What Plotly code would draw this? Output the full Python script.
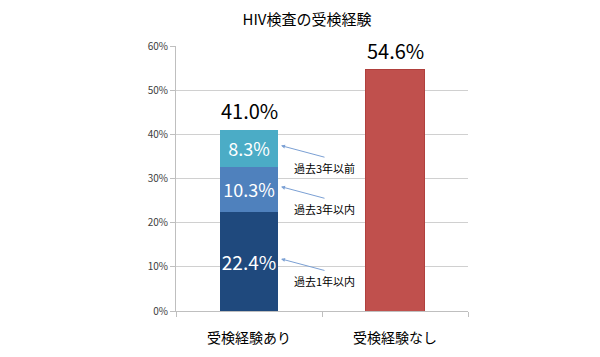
import plotly.graph_objects as go

categories = ["受検経験あり", "受検経験なし"]
seg_names = ["過去1年以内", "過去3年以内", "過去3年以前"]
seg_values = [22.4, 10.3, 8.3]
seg_colors = ["#1F497D", "#4F81BD", "#4BACC6"]
no_value = 54.6
totals = [41.0, 54.6]
yticks = [0, 10, 20, 30, 40, 50, 60]
ytick_text = ["0%", "10%", "20%", "30%", "40%", "50%", "60%"]
title_text = "HIV検査の受検経験"

FONT = "Noto Sans CJK JP, Noto Sans, sans-serif"

fig = go.Figure()
for name, v, c, fs in zip(seg_names, seg_values, seg_colors, [19, 18, 18]):
    fig.add_trace(go.Bar(
        x=[categories[0]], y=[v], name=name, marker=dict(color=c, line=dict(width=0)),
        width=0.4, text=[f"{v:.1f}%"], textposition="inside", insidetextanchor="middle",
        textangle=0, constraintext="none",
        textfont=dict(color="white", size=fs, family=FONT), hoverinfo="skip"))
fig.add_trace(go.Bar(
    x=[categories[1]], y=[no_value], name="なし",
    marker=dict(color="#C0504D", line=dict(color="#B0403D", width=1)),
    width=0.4, hoverinfo="skip"))

# totals
for cat, t in zip(categories, totals):
    fig.add_annotation(x=cat, y=t, text=f"{t:.1f}%", showarrow=False, yanchor="bottom",
                       yshift=3, font=dict(size=20, color="black", family=FONT))

# segment callouts
cum = 0
tips = []
for v in seg_values:
    tips.append(cum + v / 2 + 0.6)
    cum += v
for name, ty in zip(seg_names, tips):
    fig.add_annotation(x=categories[0], y=ty, xshift=32, text="", showarrow=True,
                       ax=45, ay=12, arrowhead=2, arrowsize=0.8, arrowwidth=1,
                       arrowcolor="#7BA0D4", axref="pixel", ayref="pixel")
    fig.add_annotation(x=categories[0], y=ty, xshift=75, yshift=-22, text=name,
                       showarrow=False, font=dict(size=11, color="black", family=FONT))

fig.update_layout(
    barmode="stack",
    width=592, height=349,
    margin=dict(l=168, r=132, t=38, b=46, autoexpand=False),
    paper_bgcolor="white", plot_bgcolor="white",
    showlegend=False,
    font=dict(family=FONT),
    title=dict(text=title_text, x=0.505, xanchor="center", y=0.966, yanchor="middle",
               font=dict(size=15, color="black", family=FONT)),
)
fig.update_yaxes(range=[0, 60], tickvals=yticks, ticktext=ytick_text, automargin=False,
                 showgrid=True, gridcolor="#D0D0D0", gridwidth=1,
                 showline=True, linecolor="#BFBFBF", linewidth=1,
                 ticks="outside", ticklen=5, tickcolor="#BFBFBF",
                 tickfont=dict(size=10, color="#404040", family=FONT), zeroline=False)
fig.update_xaxes(showline=True, linecolor="#BFBFBF", linewidth=1, automargin=False,
                 ticks="outside", ticklen=5, tickcolor="#BFBFBF", tickson="boundaries",
                 ticklabelstandoff=14,
                 tickfont=dict(size=14, color="black", family=FONT))

fig.write_html("out.html")
